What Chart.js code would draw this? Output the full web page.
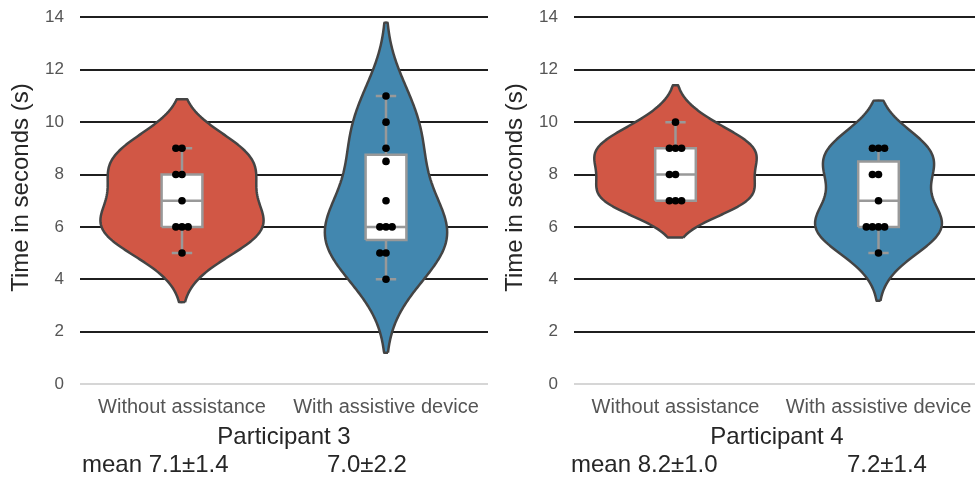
<!DOCTYPE html>
<html>
<head>
<meta charset="utf-8">
<script src="https://cdn.jsdelivr.net/npm/chart.js@4.4.0/dist/chart.umd.min.js"></script>
<style>
  html, body { margin: 0; padding: 0; background: #fff; width: 975px; height: 477px; overflow: hidden; position: relative; }
  canvas { position: absolute; top: -19px; }
  #p3 { left: 0; }
  #p4 { left: 494px; }
</style>
</head>
<body>
<canvas id="p3" width="492" height="496"></canvas>
<canvas id="p4" width="490" height="496"></canvas>
<script>
// ─── DATA ─────────────────────────────────────────────────────────────────────
const categories = ['Without assistance', 'With assistive device'];
const participants = ['Participant 3', 'Participant 4'];
const p3Without = [9, 9, 8, 8, 7, 6, 6, 6, 5];
const p3With = [11, 10, 9, 8.5, 7, 6, 6, 6, 5, 5, 4];
const p4Without = [10, 9, 9, 9, 8, 8, 7, 7, 7];
const p4With = [9, 9, 9, 8, 8, 7, 6, 6, 6, 6, 5];
const yTicks = [0, 2, 4, 6, 8, 10, 12, 14];

// ─── STYLE ────────────────────────────────────────────────────────────────────
const FONT = '"Liberation Sans", Arial, sans-serif';
const violinColors = ['#d15745', '#4287af'];
const outline = '#444444';
const boxGray = '#999999';
const swarmStep = 0.03;   // x-units between neighbouring dots

// ─── STATS HELPERS ────────────────────────────────────────────────────────────
const mean = a => a.reduce((s, v) => s + v, 0) / a.length;

function quantile(a, q) {
  const s = [...a].sort((x, y) => x - y);
  const pos = (s.length - 1) * q, lo = Math.floor(pos), f = pos - lo;
  return lo + 1 < s.length ? s[lo] + (s[lo + 1] - s[lo]) * f : s[lo];
}

// gaussian kde, scott bandwidth, cut = 2 (same as the violin in the source plot)
function kde(values) {
  const n = values.length, m = mean(values);
  const sd = Math.sqrt(values.reduce((s, v) => s + (v - m) ** 2, 0) / (n - 1));
  const bw = sd * Math.pow(n, -0.2);
  const lo = Math.min(...values) - 2 * bw, hi = Math.max(...values) + 2 * bw;
  const ys = [], dens = [];
  for (let i = 0; i < 100; i++) {
    const y = lo + (hi - lo) * i / 99;
    let d = 0;
    values.forEach(v => { d += Math.exp(-0.5 * ((y - v) / bw) ** 2); });
    ys.push(y);
    dens.push(d / (n * bw * Math.sqrt(2 * Math.PI)));
  }
  return { ys, dens };
}

function swarm(values, cx) {
  const seen = {};
  return values.map(v => {
    const k = seen[v] || 0;
    seen[v] = k + 1;
    const off = k === 0 ? 0 : (k % 2 ? -Math.ceil(k / 2) : k / 2);
    return { x: cx + off * swarmStep, y: v };
  });
}

function buildDatasets(groups) {
  const curves = groups.map(kde);
  const maxDens = Math.max(...curves.map(c => Math.max(...c.dens)));
  const sets = [];
  groups.forEach((vals, i) => {
    const { ys, dens } = curves[i];
    const w = dens.map(d => d / maxDens * 0.4);
    const poly = ys.map((y, j) => ({ x: i + w[j], y }));
    for (let j = ys.length - 1; j >= 0; j--) poly.push({ x: i - w[j], y: ys[j] });
    poly.push(poly[0]);
    sets.push({
      data: poly, fill: 'shape', backgroundColor: violinColors[i],
      borderColor: outline, borderWidth: 2.5, pointRadius: 0, tension: 0.05, order: 4
    });

    const q1 = quantile(vals, 0.25), med = quantile(vals, 0.5), q3 = quantile(vals, 0.75);
    const iqr = q3 - q1;
    const hi = Math.max(...vals.filter(v => v <= q3 + 1.5 * iqr));
    const lo = Math.min(...vals.filter(v => v >= q1 - 1.5 * iqr));
    const bh = 0.1, ch = 0.05, gap = { x: null, y: null };
    sets.push({
      data: [{ x: i - bh, y: q1 }, { x: i + bh, y: q1 }, { x: i + bh, y: q3 }, { x: i - bh, y: q3 }, { x: i - bh, y: q1 }],
      fill: 'shape', backgroundColor: '#ffffff', borderColor: boxGray, borderWidth: 2.5,
      pointRadius: 0, tension: 0, order: 3
    });
    sets.push({
      data: [
        { x: i, y: q3 }, { x: i, y: hi }, gap,
        { x: i - ch, y: hi }, { x: i + ch, y: hi }, gap,
        { x: i, y: q1 }, { x: i, y: lo }, gap,
        { x: i - ch, y: lo }, { x: i + ch, y: lo }, gap,
        { x: i - bh, y: med }, { x: i + bh, y: med }
      ],
      fill: false, borderColor: boxGray, borderWidth: 2.5, pointRadius: 0, tension: 0, order: 2
    });
    sets.push({
      data: swarm(vals, i), showLine: false, pointRadius: 3.8, pointBorderWidth: 0,
      pointBackgroundColor: '#000', pointBorderColor: '#000', order: 1
    });
  });
  return sets;
}

// bottom text: participant label and mean ± sd for each condition
const bottomLabels = {
  id: 'bottomLabels',
  afterDraw(chart, args, opts) {
    const { ctx, chartArea } = chart;
    ctx.save();
    ctx.fillStyle = '#262626';
    ctx.font = '24px ' + FONT;
    ctx.textBaseline = 'alphabetic';
    ctx.textAlign = 'center';
    ctx.fillText(opts.title, (chartArea.left + chartArea.right) / 2, chartArea.bottom + 60);
    ctx.textAlign = 'left';
    const txt = opts.groups.map(g => {
      const m = mean(g);
      const sd = Math.sqrt(g.reduce((s, v) => s + (v - m) ** 2, 0) / g.length);
      return m.toFixed(1) + '±' + sd.toFixed(1);
    });
    ctx.fillText('mean ' + txt[0], chartArea.left + opts.offsets[0], chartArea.bottom + 88);
    ctx.fillText(txt[1], chartArea.left + opts.offsets[1], chartArea.bottom + 88);
    ctx.restore();
  }
};

function makePanel(id, title, groups, offsets, padRight) {
  new Chart(document.getElementById(id), {
    type: 'line',
    data: { datasets: buildDatasets(groups) },
    options: {
      responsive: false,
      animation: false,
      events: [],
      layout: { padding: { top: 0, left: 0, right: padRight, bottom: 0 } },
      plugins: {
        legend: { display: false },
        tooltip: { enabled: false },
        bottomLabels: { title, groups, offsets }
      },
      scales: {
        x: {
          type: 'linear', min: -0.5, max: 1.5,
          afterBuildTicks: s => { s.ticks = categories.map((c, i) => ({ value: i })); },
          afterFit: s => { s.height = 93; },
          grid: { display: false, drawTicks: false },
          border: { display: false },
          ticks: {
            callback: v => categories[v], autoSkip: false, maxRotation: 0,
            padding: 11, color: '#555', font: { family: FONT, size: 20 }
          }
        },
        y: {
          min: 0, max: 15,
          afterBuildTicks: s => { s.ticks = yTicks.map(v => ({ value: v })); },
          afterFit: s => { s.width = 80; },
          grid: {
            drawTicks: true, tickLength: 16, tickColor: 'rgba(0,0,0,0)', lineWidth: 2,
            color: c => (c.tick && c.tick.value === 0 ? '#d6d6d6' : '#1f1f1f')
          },
          border: { display: false },
          ticks: { padding: 0, color: '#555', font: { family: FONT, size: 17 } },
          title: {
            display: true, text: 'Time in seconds (s)', color: '#262626',
            font: { family: FONT, size: 24 }, padding: { top: 7, bottom: 0 }
          }
        }
      }
    },
    plugins: [bottomLabels]
  });
}

makePanel('p3', participants[0], [p3Without, p3With], [2, 247], 2);
makePanel('p4', participants[1], [p4Without, p4With], [-3, 273], 0);
</script>
</body>
</html>
